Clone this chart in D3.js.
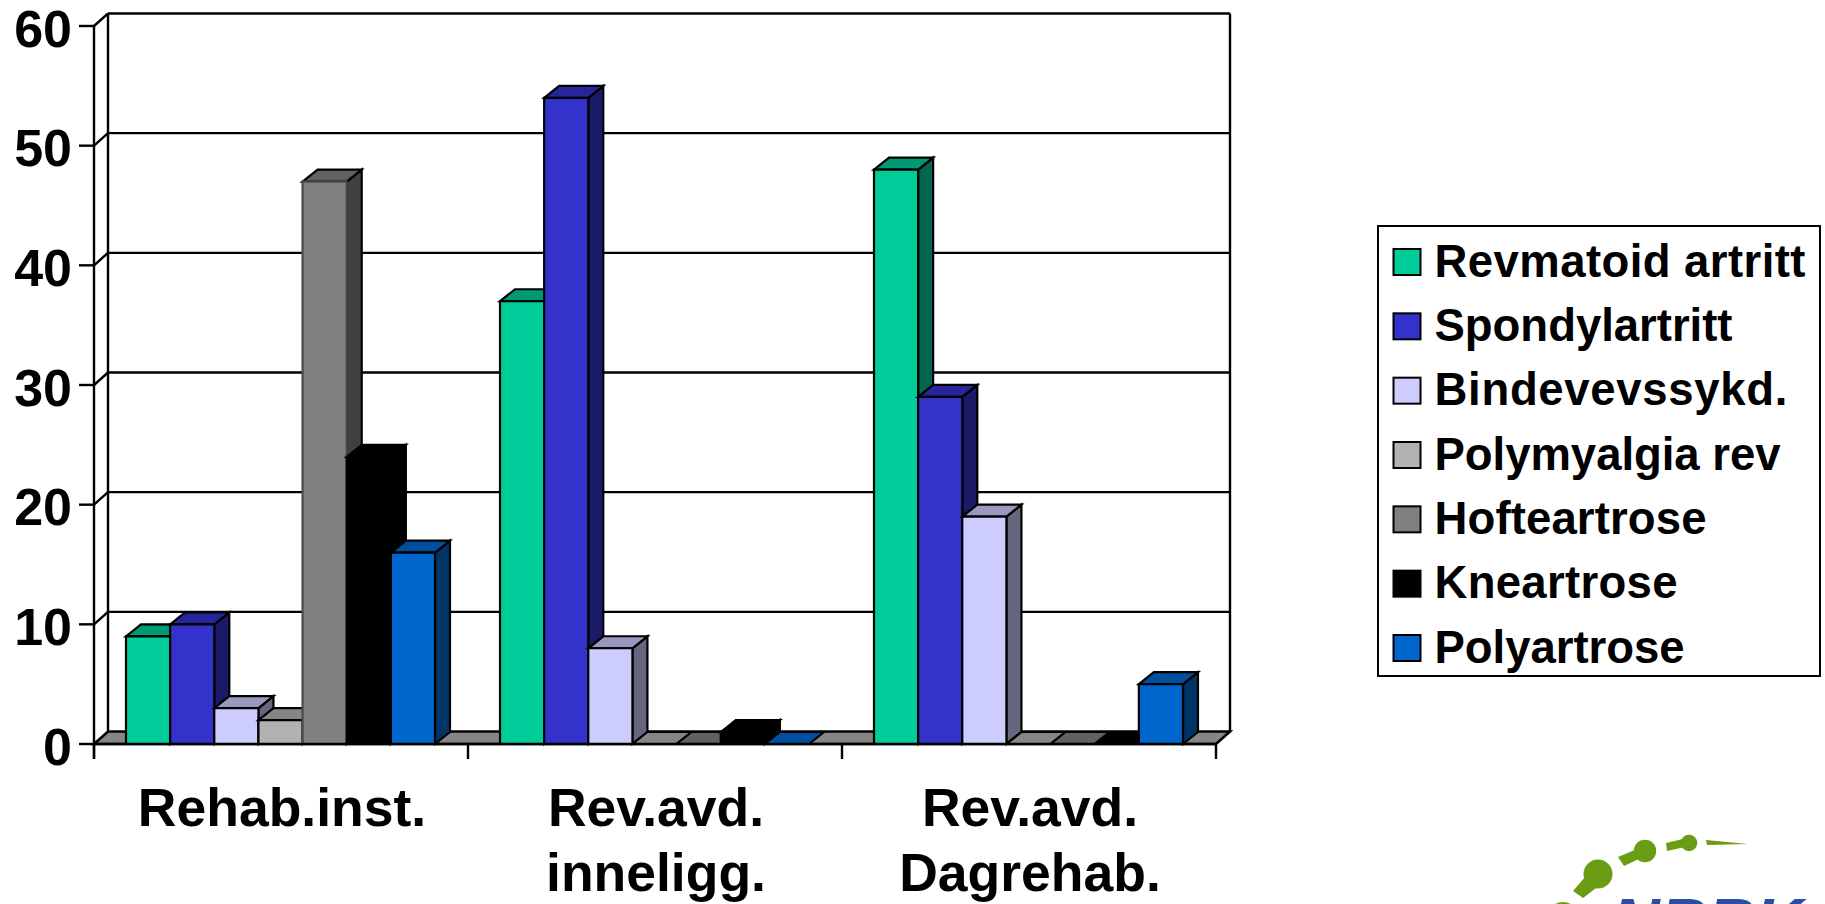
<!DOCTYPE html>
<html>
<head>
<meta charset="utf-8">
<script src="https://cdn.jsdelivr.net/npm/d3@7"></script>
<style>
  html, body { margin: 0; padding: 0; background: #fff; overflow: hidden; }
  svg { display: block; }
  text { font-family: "Liberation Sans", Arial, sans-serif; font-weight: bold; fill: #000; }
</style>
</head>
<body>
<svg id="chart" width="1825" height="904"></svg>
<script>
// Patient groups along the horizontal axis; each entry is one line of the label.
const categories = ["Rehab.inst.", "Rev.avd. inneligg.", "Rev.avd. Dagrehab."];
const categoryLines = [["Rehab.inst."], ["Rev.avd.", "inneligg."], ["Rev.avd.", "Dagrehab."]];

// Diagnoses, in legend and drawing order.
const seriesNames = ["Revmatoid artritt", "Spondylartritt", "Bindevevssykd.", "Polymyalgia rev", "Hofteartrose", "Kneartrose", "Polyartrose"];

// Values per diagnosis, one per patient group.
const revmatoid = [9, 37, 48];
const spondyl = [10, 54, 29];
const bindevev = [3, 8, 19];
const polymyalgia = [2, 0, 0];
const hofte = [47, 0, 0];
const kne = [24, 1, 0];
const polyartrose = [16, 0, 5];
const seriesValues = [revmatoid, spondyl, bindevev, polymyalgia, hofte, kne, polyartrose];

const yTicks = [0, 10, 20, 30, 40, 50, 60];

// Front, top and side shades of each bar.
const frontColors = ["#00cc99", "#3333cc", "#ccccff", "#b2b2b2", "#808080", "#000000", "#0066cc"];
const topColors = ["#009973", "#26269a", "#9999bf", "#868686", "#616161", "#000000", "#004f9e"];
const sideColors = ["#00664d", "#1a1a66", "#66667f", "#5a5a5a", "#404040", "#000000", "#003366"];
const floorColor = "#868686";

// Set width of each legend entry, in pixels.
const legendTextWidths = [371, 298, 353, 346, 272, 243, 250];

const svg = d3.select("#chart");

const plot = { left: 94, right: 1216, bottom: 744, top: 26 };
const wallDepth = { dx: 14, dy: -12.5 };
const barDepth = { dx: 15, dy: -12 };

const x = d3.scaleBand().domain(categories).range([plot.left, plot.right]);
const inner = d3.scaleBand().domain(seriesNames).range([32, 341]);
const y = d3.scaleLinear().domain([0, 60]).range([plot.bottom, plot.top]);

const line = (g, x1, y1, x2, y2, w = 2.4) => g.append("line")
  .attr("x1", x1).attr("y1", y1).attr("x2", x2).attr("y2", y2)
  .attr("stroke", "#000").attr("stroke-width", w);

const poly = (g, pts, fill, stroke = "#000", w = 2.2) => g.append("polygon")
  .attr("points", pts.map(p => p.join(",")).join(" "))
  .attr("fill", fill).attr("stroke", stroke).attr("stroke-width", w)
  .attr("stroke-linejoin", "miter");

// Back wall, side wall and gridlines
const walls = svg.append("g");
yTicks.forEach(t => {
  const yy = y(t);
  if (t > 0) {
    line(walls, plot.left + wallDepth.dx, yy + wallDepth.dy, plot.right + wallDepth.dx, yy + wallDepth.dy);
    line(walls, plot.left, yy, plot.left + wallDepth.dx, yy + wallDepth.dy);
  }
  line(walls, plot.left - 15, yy, plot.left, yy);
});
line(walls, plot.left, plot.top, plot.left, plot.bottom + 15, 2.4);
line(walls, plot.left + wallDepth.dx, plot.top + wallDepth.dy, plot.left + wallDepth.dx, plot.bottom + wallDepth.dy);
line(walls, plot.right + wallDepth.dx, plot.top + wallDepth.dy, plot.right + wallDepth.dx, plot.bottom + wallDepth.dy);

// Floor of the plot
poly(walls, [
  [plot.left, plot.bottom],
  [plot.left + wallDepth.dx, plot.bottom + wallDepth.dy],
  [plot.right + wallDepth.dx, plot.bottom + wallDepth.dy],
  [plot.right, plot.bottom]
], floorColor, "#000", 2.6);

// Category ticks
categories.concat(null).forEach(c => {
  const xx = c ? x(c) : plot.right;
  line(walls, xx, plot.bottom, xx, plot.bottom + 15, 2.4);
});

// Bars, painted left to right so that later bars overlap earlier ones
const bars = svg.append("g");
categories.forEach((cat, ci) => {
  seriesNames.forEach((name, si) => {
    const v = seriesValues[si][ci];
    const x0 = x(cat) + inner(name);
    const x1 = x0 + inner.bandwidth();
    const yTop = y(v);
    const yBase = y(0);
    const dx = barDepth.dx, dy = barDepth.dy;
    const g = bars.append("g").attr("class", "bar");
    if (v > 0) {
      poly(g, [[x1, yBase], [x1 + dx, yBase + dy], [x1 + dx, yTop + dy], [x1, yTop]], sideColors[si]);
      poly(g, [[x0, yTop], [x1, yTop], [x1 + dx, yTop + dy], [x0 + dx, yTop + dy]], topColors[si]);
      poly(g, [[x0, yBase], [x1, yBase], [x1, yTop], [x0, yTop]], frontColors[si], si === 4 ? "#4a4a4a" : "#000");
    } else {
      poly(g, [[x0, yBase], [x1, yBase], [x1 + dx, yBase + dy], [x0 + dx, yBase + dy]], topColors[si]);
    }
  });
});

// Front edge of the floor stays above the bar feet
line(svg.append("g"), plot.left, plot.bottom, plot.right, plot.bottom, 2.6);

// Value axis labels
svg.append("g").selectAll("text").data(yTicks).join("text")
  .attr("x", 72).attr("y", d => y(d) + 20.5)
  .attr("text-anchor", "end").attr("font-size", 52)
  .text(d => d);

// Category labels
const catLabels = svg.append("g");
categories.forEach((cat, i) => {
  categoryLines[i].forEach((ln, j) => {
    catLabels.append("text")
      .attr("x", x(cat) + x.bandwidth() / 2 + 1)
      .attr("y", 826 + j * 65)
      .attr("text-anchor", "middle").attr("font-size", 53.5)
      .text(ln);
  });
});

// Legend
const legend = svg.append("g");
legend.append("rect").attr("x", 1378).attr("y", 226).attr("width", 442).attr("height", 450)
  .attr("fill", "#fff").attr("stroke", "#000").attr("stroke-width", 2);
const legendY = d3.scalePoint().domain(seriesNames).range([248, 634]);
seriesNames.forEach((name, si) => {
  const ly = legendY(name);
  legend.append("rect").attr("x", 1393.5).attr("y", ly + 1).attr("width", 27).attr("height", 26)
    .attr("fill", frontColors[si]).attr("stroke", "#000").attr("stroke-width", 2);
  legend.append("text").attr("x", 1434.5).attr("y", ly + 28.5).attr("font-size", 45.5)
    .attr("textLength", legendTextWidths[si]).attr("lengthAdjust", "spacing").text(name);
});

// Organisation logo, running off the bottom of the page
const logo = svg.append("g");
const green = "#6a9c14";
[[1563, 917, 15], [1598, 874, 14.5], [1645, 851, 11.2], [1689, 843, 8.3]].forEach(c => {
  logo.append("circle").attr("cx", c[0]).attr("cy", c[1]).attr("r", c[2]).attr("fill", green);
});
[
  [[1573, 891], [1592, 869], [1604, 882], [1583, 898]],
  [[1618, 857], [1637, 849], [1641, 858], [1624, 866]],
  [[1666, 843], [1683, 839], [1685, 847], [1667, 851]],
  [[1706, 840], [1748, 844], [1707, 845]]
].forEach(p => logo.append("polygon").attr("points", p.join(" ")).attr("fill", green));
logo.append("text").attr("x", 1612).attr("y", 945).attr("font-size", 66)
  .attr("font-style", "italic").style("fill", "#2a4f9e").text("NBRK");
</script>
</body>
</html>
